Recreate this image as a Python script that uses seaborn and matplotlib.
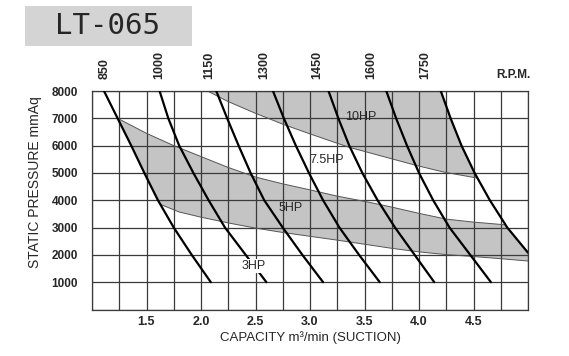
import numpy as np
import pandas as pd
import matplotlib.pyplot as plt
import matplotlib.patches as patches
import matplotlib.transforms as mtransforms
import seaborn as sns

# Fan curve chart for LT-065: capacity (m3/min) vs static pressure (mmAq)

pressure = [8000, 7000, 6000, 5000, 4000, 3000, 2000, 1000]
rpm_850 = [1.11, 1.235, 1.36, 1.48, 1.605, 1.75, 1.915, 2.09]
rpm_1000 = [1.62, 1.70, 1.80, 1.93, 2.07, 2.22, 2.41, 2.60]
rpm_1150 = [2.14, 2.24, 2.345, 2.455, 2.58, 2.75, 2.93, 3.12]
rpm_1300 = [2.66, 2.76, 2.87, 2.99, 3.12, 3.27, 3.45, 3.64]
rpm_1450 = [3.17, 3.26, 3.36, 3.48, 3.62, 3.78, 3.96, 4.14]
rpm_1600 = [3.70, 3.79, 3.89, 4.00, 4.13, 4.28, 4.47, 4.66]
# the 1750 curve runs into the right edge of the chart
pressure_1750 = [8000, 7000, 6000, 5000, 4000, 3000, 2080]
rpm_1750 = [4.20, 4.29, 4.39, 4.51, 4.65, 4.81, 5.00]

rpm_names = ['850', '1000', '1150', '1300', '1450', '1600', '1750']
rpm_label_x = [1.12, 1.62, 2.08, 2.58, 3.07, 3.56, 4.06]

# lower edge of the 10HP zone
hp10_x = [2.06, 2.24, 2.49, 2.76, 3.00, 3.35, 3.72, 3.97, 4.23, 4.537]
hp10_y = [8000, 7630, 7200, 6770, 6430, 5950, 5550, 5280, 5030, 4810]

# upper and lower edges of the 5HP zone
hp5_top_x = [1.235, 1.50, 1.75, 2.00, 2.25, 2.50, 2.75, 3.00, 3.25, 3.50, 3.75, 4.00, 4.25, 4.50, 4.794]
hp5_top_y = [7000, 6450, 6000, 5600, 5200, 4850, 4600, 4380, 4150, 3960, 3750, 3520, 3310, 3200, 3100]
hp5_bot_x = [1.627, 1.80, 2.00, 2.25, 2.50, 2.75, 3.00, 3.25, 3.50, 3.75, 4.00, 4.25, 4.50, 4.75, 5.00]
hp5_bot_y = [3850, 3570, 3380, 3170, 2980, 2820, 2680, 2540, 2390, 2240, 2110, 2010, 1940, 1860, 1775]

hp_labels = ['10HP', '7.5HP', '5HP', '3HP']
hp_label_x = [3.47, 3.15, 2.82, 2.48]
hp_label_y = [7040, 5460, 3730, 1590]

x_ticks = [1.5, 2.0, 2.5, 3.0, 3.5, 4.0, 4.5]
y_ticks = [1000, 2000, 3000, 4000, 5000, 6000, 7000, 8000]

# long table for seaborn
curves = {'850': (rpm_850, pressure), '1000': (rpm_1000, pressure), '1150': (rpm_1150, pressure),
          '1300': (rpm_1300, pressure), '1450': (rpm_1450, pressure), '1600': (rpm_1600, pressure),
          '1750': (rpm_1750, pressure_1750)}
rows = []
for name, (xs, ys) in curves.items():
    for i, (xv, yv) in enumerate(zip(xs, ys)):
        rows.append({'rpm': name, 'order': i, 'capacity': xv, 'pressure': yv})
df = pd.DataFrame(rows)


def curve_piece(xs, ys, y_hi, y_lo):
    # part of a rpm curve between two pressures, ordered from y_hi to y_lo
    xs = np.asarray(xs, float)
    ys = np.asarray(ys, float)
    inner = (ys < y_hi) & (ys > y_lo)
    px = np.concatenate([[np.interp(y_hi, ys[::-1], xs[::-1])], xs[inner],
                         [np.interp(y_lo, ys[::-1], xs[::-1])]])
    py = np.concatenate([[y_hi], ys[inner], [y_lo]])
    return px, py


sns.set_style('white')
plt.rcParams['font.family'] = ['Liberation Sans', 'DejaVu Sans']

fig = plt.figure(figsize=(5.69, 3.56), dpi=100)
ax = fig.add_axes([92 / 569, 1 - 309.5 / 356, 436 / 569, 218.5 / 356])

band_color = '#c4c4c4'
edge_color = '#555555'

# 10HP zone: top edge, down the 1750 curve, back along the lower edge
c7x, c7y = curve_piece(rpm_1750, pressure_1750, 8000, hp10_y[-1])
poly_x = np.concatenate([[hp10_x[0]], c7x, hp10_x[::-1]])
poly_y = np.concatenate([[8000], c7y, hp10_y[::-1]])
ax.fill(poly_x, poly_y, color=band_color, zorder=0.2, lw=0)
ax.plot(hp10_x, hp10_y, color=edge_color, lw=0.7, zorder=1)

# 5HP zone
c7x, c7y = curve_piece(rpm_1750, pressure_1750, hp5_top_y[-1], pressure_1750[-1])
c1x, c1y = curve_piece(rpm_850, pressure, hp5_top_y[0], hp5_bot_y[0])
poly_x = np.concatenate([hp5_top_x, c7x, hp5_bot_x[::-1], c1x[::-1]])
poly_y = np.concatenate([hp5_top_y, c7y, hp5_bot_y[::-1], c1y[::-1]])
ax.fill(poly_x, poly_y, color=band_color, zorder=0.2, lw=0)
ax.plot(hp5_top_x, hp5_top_y, color=edge_color, lw=0.7, zorder=1)
ax.plot(hp5_bot_x, hp5_bot_y, color=edge_color, lw=0.7, zorder=1)

# rpm curves
sns.lineplot(data=df, x='capacity', y='pressure', units='rpm', estimator=None,
             sort=False, color='black', lw=1.6, legend=False, ax=ax, zorder=3)

ax.set_xlim(1.0, 5.0)
ax.set_ylim(0, 8000)
ax.set_xticks(np.arange(1.0, 5.01, 0.25))
ax.set_xticklabels(['%.1f' % v if round(v, 2) in x_ticks else '' for v in np.arange(1.0, 5.01, 0.25)],
                   fontsize=9, fontweight='bold')
ax.set_yticks([0] + y_ticks)
ax.set_yticklabels([''] + [str(v) for v in y_ticks], fontsize=8.5, fontweight='bold')
ax.tick_params(axis='x', length=0, pad=5)
ax.tick_params(axis='y', length=0, pad=10)
ax.grid(True, color='#3a3a3a', lw=0.9)
for sp in ax.spines.values():
    sp.set_color('#3a3a3a')
    sp.set_linewidth(0.9)
ax.set_xlabel('')
ax.set_ylabel('')

# HP zone labels
for txt, xv, yv in zip(hp_labels, hp_label_x, hp_label_y):
    box = dict(facecolor='white', edgecolor='none', pad=0.5) if txt == '3HP' else None
    ax.text(xv, yv, txt, ha='center', va='center', fontsize=9, zorder=4, bbox=box)

# rpm labels above the frame
trans = mtransforms.blended_transform_factory(ax.transData, ax.transAxes)
for name, xv in zip(rpm_names, rpm_label_x):
    ax.text(xv, 1.055, name, rotation=90, ha='center', va='bottom', fontsize=9,
            fontweight='bold', transform=trans)
ax.text(1.005, 1.045, 'R.P.M.', ha='right', va='bottom', fontsize=8.5, fontweight='bold',
        transform=ax.transAxes)

# axis titles
fig.text(35 / 569, 1 - 182 / 356, 'STATIC PRESSURE mmAq', rotation=90, ha='center', va='center', fontsize=10)
fig.text(310 / 569, 1 - 338 / 356, 'CAPACITY m³/min (SUCTION)', ha='center', va='center', fontsize=9.5)

# model name box
fig.patches.append(patches.Rectangle((25 / 569, 1 - 46 / 356), 167 / 569, 40 / 356,
                                     transform=fig.transFigure, facecolor='#d4d4d4', edgecolor='none'))
fig.text(108 / 569, 1 - 26 / 356, 'LT-065', ha='center', va='center', fontsize=21,
         family='DejaVu Sans Mono')

fig.savefig('out.png', dpi=100)
